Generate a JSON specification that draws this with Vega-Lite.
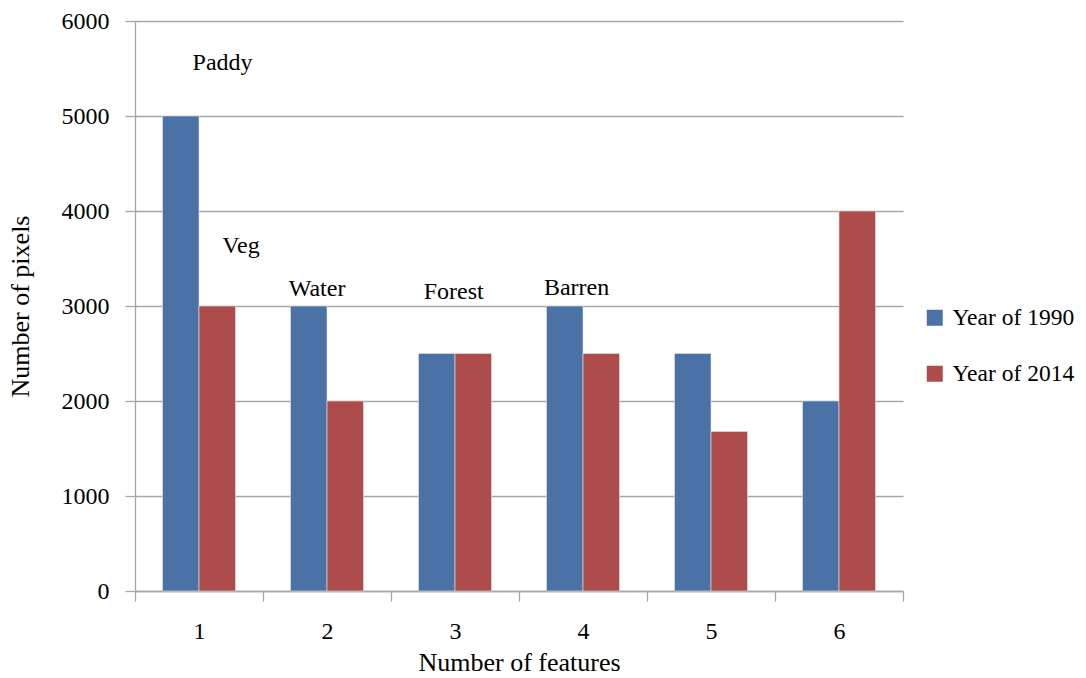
{
  "$schema": "https://vega.github.io/schema/vega-lite/v6.json",
  "autosize": "none",
  "width": 768,
  "height": 570,
  "padding": {"left": 135, "top": 21, "right": 183, "bottom": 87},
  "background": "white",
  "config": {
    "view": {"stroke": null},
    "font": "Liberation Serif",
    "axis": {"labelFont": "Liberation Serif", "titleFont": "Liberation Serif", "labelColor": "black", "titleColor": "black", "titleFontWeight": "normal", "labelFontSize": 24, "titleFontSize": 26, "domainColor": "#A6A6A6", "tickColor": "#A6A6A6", "gridColor": "#A6A6A6", "domainWidth": 1.3, "tickWidth": 1.3, "gridWidth": 1.3},
    "legend": {"labelFont": "Liberation Serif", "labelFontSize": 23.5, "labelColor": "black"}
  },
  "datasets": {
    "bars": [
      {"feature": "1", "series": "Year of 1990", "pixels": 5000},
      {"feature": "1", "series": "Year of 2014", "pixels": 3000},
      {"feature": "2", "series": "Year of 1990", "pixels": 3000},
      {"feature": "2", "series": "Year of 2014", "pixels": 2000},
      {"feature": "3", "series": "Year of 1990", "pixels": 2500},
      {"feature": "3", "series": "Year of 2014", "pixels": 2500},
      {"feature": "4", "series": "Year of 1990", "pixels": 3000},
      {"feature": "4", "series": "Year of 2014", "pixels": 2500},
      {"feature": "5", "series": "Year of 1990", "pixels": 2500},
      {"feature": "5", "series": "Year of 2014", "pixels": 1680},
      {"feature": "6", "series": "Year of 1990", "pixels": 2000},
      {"feature": "6", "series": "Year of 2014", "pixels": 4000}
    ],
    "labels": [
      {"label": "Paddy", "xpos": 1.184, "ypos": 5554},
      {"label": "Veg", "xpos": 1.328, "ypos": 3632},
      {"label": "Water", "xpos": 1.922, "ypos": 3178},
      {"label": "Forest", "xpos": 2.99, "ypos": 3147},
      {"label": "Barren", "xpos": 3.95, "ypos": 3189}
    ]
  },
  "layer": [
    {
      "data": {"name": "bars"},
      "mark": {"type": "bar", "stroke": "#E6E6E6", "strokeWidth": 0.6},
      "encoding": {
        "x": {
          "field": "feature", "type": "nominal",
          "scale": {"paddingInner": 0, "paddingOuter": 0},
          "axis": {"title": "Number of features", "labelAngle": 0, "tickBand": "extent", "tickSize": 10, "labelPadding": 18, "titlePadding": 6, "grid": false}
        },
        "xOffset": {"field": "series", "type": "nominal", "scale": {"paddingInner": 0, "paddingOuter": 0.7535}},
        "y": {
          "field": "pixels", "type": "quantitative",
          "scale": {"domain": [0, 6000], "nice": false},
          "axis": {"title": "Number of pixels", "format": "d", "values": [0, 1000, 2000, 3000, 4000, 5000, 6000], "tickSize": 10, "labelPadding": 16, "titlePadding": 28, "grid": true}
        },
        "color": {
          "field": "series", "type": "nominal",
          "scale": {"domain": ["Year of 1990", "Year of 2014"], "range": ["#4A72A7", "#AE4B4B"]},
          "legend": {"title": null, "orient": "none", "legendX": 788, "legendY": 285, "symbolType": "square", "symbolSize": 256, "symbolStrokeWidth": 0, "rowPadding": 31, "labelOffset": 6}
        }
      }
    },
    {
      "data": {"name": "labels"},
      "mark": {"type": "text", "fontSize": 24, "font": "Liberation Serif", "color": "black", "baseline": "middle", "align": "center"},
      "encoding": {
        "x": {"field": "xpos", "type": "quantitative", "scale": {"domain": [0.5, 6.5], "nice": false, "zero": false}, "axis": null},
        "y": {"field": "ypos", "type": "quantitative"},
        "text": {"field": "label", "type": "nominal"}
      }
    }
  ],
  "resolve": {"scale": {"x": "independent"}}
}
